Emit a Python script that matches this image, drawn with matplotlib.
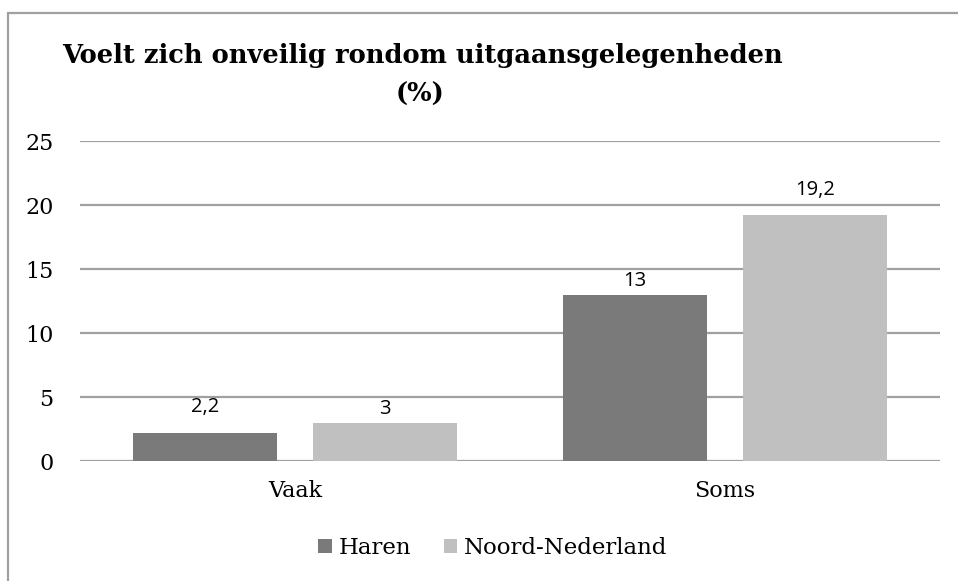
import matplotlib.pyplot as plt
import numpy as np
from matplotlib.patches import Rectangle

categories = ['Vaak', 'Soms']
haren = [2.2, 13]
noord = [3, 19.2]
series_names = ['Haren', 'Noord-Nederland']
yticks = [0, 5, 10, 15, 20, 25]
title_l1 = 'Voelt zich onveilig rondom uitgaansgelegenheden'
title_l2 = '(%)'

# label gaps above bars (points), as placed in the original
gap_haren = [15, 6]
gap_noord = [6, 14.5]

W, H = 958, 581
fig = plt.figure(figsize=(W / 100, H / 100), dpi=100)
ax = fig.add_axes([80 / W, 1 - 461 / H, 860 / W, 320 / H])

# chart area border (cut off on the right and bottom)
fig.patches.append(Rectangle((8 / W, -0.1), 1.2, 1 - 13 / H + 0.1, transform=fig.transFigure,
                             fill=False, edgecolor='#a0a0a0', linewidth=1.6))

x = np.arange(len(categories))
bw = 0.335
off = 0.21
b1 = ax.bar(x - off, haren, bw, color='#7a7a7a', label=series_names[0], zorder=3)
b2 = ax.bar(x + off, noord, bw, color='#c0c0c0', label=series_names[1], zorder=3)

def fmt(v):
    return f'{v:g}'.replace('.', ',')

for bars, vals, gaps in [(b1, haren, gap_haren), (b2, noord, gap_noord)]:
    for r, v, g in zip(bars, vals, gaps):
        ax.annotate(fmt(v), (r.get_x() + r.get_width() / 2, v), xytext=(0, g),
                    textcoords='offset points', ha='center', va='baseline',
                    fontsize=14.5, family='Open Sans', color='black')

ax.set_xlim(-0.5, 1.5)
ax.set_ylim(0, 25)
ax.set_yticks(yticks)
ax.set_yticklabels([str(t) for t in yticks], family='DejaVu Serif', fontsize=16)
ax.set_xticks(x)
ax.set_xticklabels(categories, family='DejaVu Serif', fontsize=16)
ax.tick_params(axis='y', length=0, pad=19)
ax.tick_params(axis='x', length=0, pad=14)
for s in ax.spines.values():
    s.set_visible(False)
ax.yaxis.grid(True, color='#a0a0a0', linewidth=1.6, zorder=0)
ax.set_axisbelow(True)

fig.text(422 / W, 1 - 63 / H, title_l1, ha='center', va='baseline', fontsize=18.5,
         fontweight='bold', family='DejaVu Serif')
fig.text(420 / W, 1 - 102 / H, title_l2, ha='center', va='baseline', fontsize=18.5,
         fontweight='bold', family='DejaVu Serif')

leg = fig.legend(handles=[b1, b2], loc='center', bbox_to_anchor=(493 / W, 1 - 548 / H),
                 ncol=2, frameon=False, prop={'family': 'DejaVu Serif', 'size': 16.5},
                 handlelength=0.6, handleheight=0.6, handletextpad=0.3, columnspacing=1.4)

fig.savefig('out.png', dpi=100)
